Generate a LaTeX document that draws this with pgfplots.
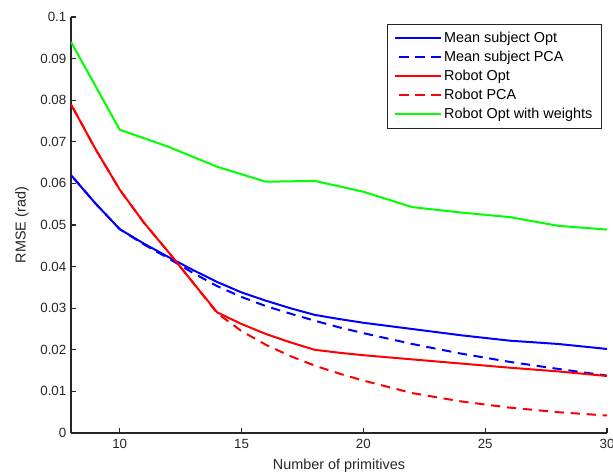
\documentclass[border=0pt]{standalone}
\usepackage{fontspec}
\setmainfont{Liberation Sans}
\usepackage{pgfplots}
\pgfplotsset{compat=1.18}
\begin{document}
\begin{tikzpicture}
\begin{axis}[
  scale only axis,
  width=402pt, height=312pt,
  xmin=8, xmax=30, ymin=0, ymax=0.1,
  axis lines*=left,
  axis line style={black!85, line width=0.8pt},
  xtick={10,15,20,25,30},
  ytick={0,0.01,0.02,0.03,0.04,0.05,0.06,0.07,0.08,0.09,0.1},
  yticklabels={0,0.01,0.02,0.03,0.04,0.05,0.06,0.07,0.08,0.09,0.1},
  tick align=inside,
  major tick length=4pt,
  tick style={black!85, line width=0.8pt},
  /pgf/number format/assume math mode=true,
  ticklabel style={font=\fontsize{10}{12}\selectfont, text=black!85},
  xticklabel style={yshift=-1pt},
  xlabel={Number of primitives},
  ylabel={RMSE (rad)},
  label style={font=\fontsize{10.8}{12}\selectfont, text=black!85},
  xlabel style={yshift=-1pt},
  ylabel style={yshift=2pt},
  legend cell align=left,
  legend style={at={(rel axis cs:1,1)}, anchor=north east, xshift=-3.75pt, yshift=-5.25pt,
    draw=black!85, line width=0.6pt, font=\fontsize{10.8}{12}\selectfont,
    row sep=1pt, inner xsep=5pt, inner ysep=3.5pt},
  legend image code/.code={\draw[#1, line width=1.5pt] (0pt,0pt) -- (34pt,0pt);},
]
\addplot[blue, line width=1.5pt] coordinates {
(8,0.062) (9,0.0552) (10,0.0490) (11,0.0455) (12,0.0423) (13,0.0392) (14,0.0363) (15,0.0338) (16,0.0318) (17,0.0300) (18,0.0284) (19,0.0274) (20,0.0265) (22,0.0250) (24,0.0235) (26,0.0222) (28,0.0214) (30,0.0202)};
\addlegendentry{Mean subject Opt}
\addplot[blue, line width=1.5pt, dash pattern=on 7pt off 5pt, dash phase=-3pt] coordinates {
(8,0.062) (9,0.0552) (10,0.0490) (11,0.0453) (12,0.0420) (13,0.0385) (14,0.0353) (15,0.0327) (16,0.0305) (17,0.0287) (18,0.0270) (19,0.0254) (20,0.0240) (22,0.0214) (24,0.0191) (26,0.0171) (28,0.0154) (30,0.0138)};
\addlegendentry{Mean subject PCA}
\addplot[red, line width=1.5pt] coordinates {
(8,0.079) (9,0.0683) (10,0.0585) (11,0.0505) (12,0.0435) (13,0.0362) (14,0.0290) (15,0.0262) (16,0.0238) (17,0.0218) (18,0.0200) (19,0.0193) (20,0.0187) (22,0.0177) (24,0.0167) (26,0.0157) (28,0.0148) (30,0.0137)};
\addlegendentry{Robot Opt}
\addplot[red, line width=1.5pt, dash pattern=on 7pt off 5pt, dash phase=-3pt] coordinates {
(8,0.079) (9,0.0683) (10,0.0585) (11,0.0505) (12,0.0435) (13,0.0362) (14,0.0288) (15,0.0245) (16,0.0212) (17,0.0185) (18,0.0162) (19,0.0143) (20,0.0126) (22,0.0096) (24,0.0076) (26,0.0061) (28,0.0050) (30,0.0042)};
\addlegendentry{Robot PCA}
\addplot[green, line width=1.5pt] coordinates {
(8,0.0940) (10,0.0729) (12,0.0688) (14,0.0640) (16,0.0604) (18,0.0606) (20,0.0580) (22,0.0543) (24,0.0530) (26,0.0519) (28,0.0498) (30,0.0489)};
\addlegendentry{Robot Opt with weights}
\coordinate (bl) at (rel axis cs:0,0);
\coordinate (tr) at (rel axis cs:1,1);
\end{axis}
\pgfresetboundingbox
\path ([xshift=-53.25pt,yshift=-31.5pt]bl) rectangle ([xshift=4.5pt,yshift=12.75pt]tr);
\end{tikzpicture}
\end{document}
